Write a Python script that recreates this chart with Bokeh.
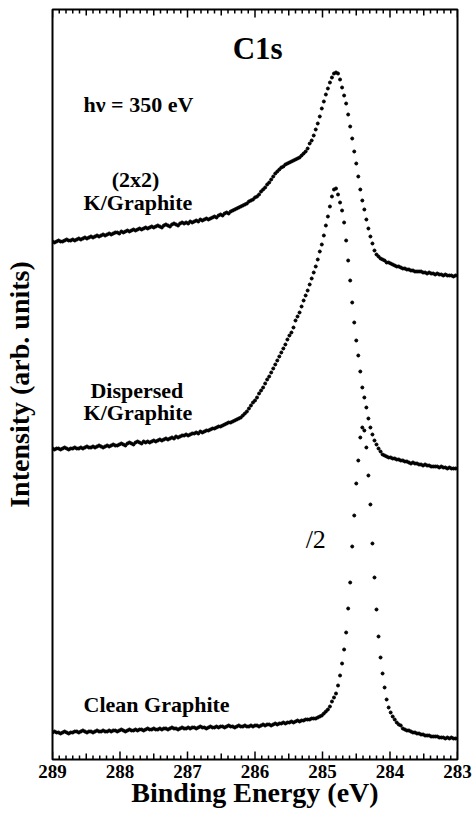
import numpy as np
from bokeh.plotting import figure
from bokeh.models import Range1d, LinearAxis, FixedTicker, Label
from bokeh.embed import file_html
from bokeh.resources import INLINE

# C 1s photoemission spectra, hv = 350 eV, sampled every 0.03 eV from 289 eV down to 283 eV
E_START = 289.0
E_STEP = 0.03

# (2x2) K/Graphite, offset for display (arb. units)
k2x2 = [
    518, 517, 518, 519, 518, 518, 519, 520, 519, 519, 520, 519, 520, 521, 520, 521,
    522, 521, 522, 523, 522, 523, 524, 523, 524, 525, 524, 525, 526, 525, 526, 527, 527,
    526, 528, 527, 528, 529, 528, 529, 530, 529, 530, 531, 530, 531, 532, 531, 532,
    533, 532, 533, 534, 533, 532, 534, 535, 534, 533, 535, 536, 535, 534, 536, 537, 536,
    537, 536, 538, 537, 538, 539, 538, 540, 539, 540, 541, 540, 541,
    542, 543, 542, 544, 545, 544, 546, 547, 546, 548, 549,
    550, 551, 552, 553, 554, 555, 556, 558, 559,
    560, 562, 563, 565, 568, 570, 572, 575, 577, 580, 583, 586, 588, 590, 592,
    593, 595, 596, 597, 598, 599, 600, 601, 602, 604, 606, 608,
    611, 616, 619, 624, 630, 636, 643, 651, 658, 665, 671, 677, 682, 686, 687, 686,
    680, 672, 664, 656, 645, 633, 621, 608, 596, 583, 570, 559, 550, 540, 531, 523,
    516, 509, 505, 503, 501,
    500, 499, 497, 497, 496, 495, 494, 493, 493, 492, 491, 491, 490, 490, 489, 489,
    488, 488, 488, 488, 487, 487, 486, 487, 486, 486, 485, 486, 485, 485, 484, 485,
    484, 484, 484, 483, 484, 484,
]

# Dispersed K/Graphite, offset for display (arb. units)
dispersed = [
    311, 310, 311, 311, 310, 311, 312, 311, 310, 311, 311, 312, 311, 311, 312, 311,
    312, 313, 312, 312, 313, 312, 313, 314, 313, 312, 313, 314, 313, 314, 315, 314, 314,
    315, 316, 315, 314, 316, 317, 316, 315, 317, 318, 317, 316, 318, 317, 318, 317,
    318, 319, 318, 319, 320, 319, 320, 321, 320, 321, 322, 321, 323, 322, 323, 324, 324,
    325, 324, 325, 326, 326, 327, 326, 328, 327, 328, 329, 329,
    330, 331, 331, 332, 333, 333, 334, 335, 336, 337, 337, 338, 339, 340, 341, 342,
    344, 346, 348, 351, 354,
    357, 359, 362, 366, 369, 372, 376, 380, 383, 387, 391, 395, 399, 403, 407, 411,
    415, 420, 424, 427, 432, 439, 443, 447, 453, 459, 464, 469, 475, 481, 487, 493,
    500, 508, 515, 524, 534, 543, 553, 563, 570, 571, 565, 557, 549, 537, 519, 499,
    479, 457, 437, 419, 404, 388, 372, 362, 352, 341, 332, 325, 319, 315, 311, 308,
    305, 304, 303, 302, 302, 301, 301, 300, 300, 299, 299, 298, 298, 297, 296, 297,
    296, 296, 295, 295, 294, 295, 294, 294, 293, 293, 293, 293, 292, 293, 292, 292,
    291, 292, 291, 291, 291, 291,
]

# Clean Graphite, peak region shown divided by 2 (arb. units)
clean = [
    27, 28, 27, 27, 26, 27, 28, 27, 26, 27, 27, 28, 28, 27, 28, 29, 28, 27, 28, 28,
    27, 28, 29, 28, 28, 29, 28, 28, 29, 28, 29, 29, 28, 29, 30, 29, 28, 29, 30, 29,
    29, 30, 29, 30, 30, 29, 30, 31, 30, 30, 31, 30, 30, 31, 30, 31, 31, 30, 31, 32,
    31, 31, 30, 31, 32, 31, 31, 32, 31, 32, 32, 31, 32, 33, 32, 32, 31, 32, 33, 32,
    32, 33, 32, 33, 33, 32, 33, 34, 33, 33, 32, 33, 34, 33, 33, 34, 33, 33, 34,
    33, 34, 34, 33, 34, 35, 34, 35, 35, 34, 35, 36, 35, 36, 36, 37, 36, 37, 37, 38,
    37, 38, 39, 38, 39, 39, 40, 40, 40, 41, 41, 41, 42, 43, 44, 46, 48, 50, 53, 58,
    62, 66, 74, 84, 96, 110, 127, 151, 177, 213, 244, 276, 299, 322, 332, 329,
    312, 284, 255, 216, 182, 150, 123, 102, 86, 72, 60, 52, 47, 43, 40, 37,
    35, 34, 31, 30, 29, 29, 28, 27, 27, 26, 26, 25, 25, 24, 24, 24, 23, 23, 23, 23,
    22, 22, 22, 21, 22, 21, 22, 21, 21, 21,
]

energy = np.round(E_START - E_STEP * np.arange(len(clean)), 3)

E_MIN, E_MAX = 283.0, 289.0
Y_MIN, Y_MAX = 0, 750
SERIF = "Liberation Serif"

p = figure(
    width=476, height=818,
    x_range=Range1d(E_MAX, E_MIN), y_range=Range1d(Y_MIN, Y_MAX),
    output_backend="svg", toolbar_location=None,
    min_border_left=52, min_border_right=19, min_border_top=9, min_border_bottom=59,
    x_axis_location=None, y_axis_location=None,
)
p.grid.visible = False
p.outline_line_color = "black"
p.outline_line_width = 2
p.background_fill_color = "white"
p.border_fill_color = "white"

# energy axis carries the labels; inward ticks are drawn as short segments below
xax = LinearAxis(ticker=FixedTicker(ticks=list(range(283, 290)), minor_ticks=[]))
xax.axis_line_color = None
xax.major_tick_in = 0
xax.major_tick_out = 0
xax.minor_tick_in = 0
xax.minor_tick_out = 0
xax.major_label_text_font = SERIF
xax.major_label_text_font_style = "bold"
xax.major_label_text_font_size = "19px"
xax.major_label_text_color = "black"
xax.major_label_standoff = 5
xax.axis_label = "Binding Energy (eV)"
xax.axis_label_text_font = SERIF
xax.axis_label_text_font_style = "bold"
xax.axis_label_text_font_size = "28px"
xax.axis_label_text_color = "black"
xax.axis_label_standoff = -4
p.add_layout(xax, "below")

yax = LinearAxis(ticker=FixedTicker(ticks=[]))
yax.axis_line_color = None
yax.major_tick_in = 0
yax.major_tick_out = 0
yax.axis_label = "Intensity (arb. units)"
yax.axis_label_text_font = SERIF
yax.axis_label_text_font_style = "bold"
yax.axis_label_text_font_size = "28px"
yax.axis_label_text_color = "black"
yax.axis_label_standoff = 18
p.add_layout(yax, "left")

# inward ticks on bottom and top edges: 1 eV long, 0.5 eV medium, 0.1 eV short
# (one y unit is one pixel of the 750 px tall frame)
tick_e = [round(E_MIN + 0.1 * k, 1) for k in range(61)]
tick_len = [8 if abs(t - round(t)) < 1e-6 else (6 if abs(t * 2 - round(t * 2)) < 1e-6 else 4)
            for t in tick_e]
bottom_ticks = dict(x0=tick_e, x1=list(tick_e), y0=[Y_MIN] * len(tick_e),
                    y1=[Y_MIN + L for L in tick_len])
top_ticks = dict(x0=list(tick_e), x1=list(tick_e), y0=[Y_MAX] * len(tick_e),
                 y1=[Y_MAX - L for L in tick_len])
p.segment(source=bottom_ticks, x0="x0", x1="x1", y0="y0", y1="y1",
          line_color="black", line_width=1.5)
p.segment(source=top_ticks, x0="x0", x1="x1", y0="y0", y1="y1",
          line_color="black", line_width=1.5)

for series in (k2x2, dispersed, clean):
    p.scatter(energy, series, size=3, color="black", marker="circle")

def add_text(x, y, text, size, bold=True, align="left"):
    p.add_layout(Label(
        x=x, y=y, text=text, text_font=SERIF,
        text_font_style="bold" if bold else "normal",
        text_font_size=size, text_align=align, text_baseline="alphabetic",
        text_color="black",
    ))

add_text(285.96, 711, "C1s", "31px", align="center")
add_text(288.54, 655, "h\u03bd = 350 eV", "22px")
add_text(287.77, 580, "(2x2)", "22px", align="center")
add_text(288.54, 557, "K/Graphite", "22px")
add_text(287.75, 369, "Dispersed", "22px", align="center")
add_text(288.54, 347, "K/Graphite", "22px")
add_text(288.54, 55, "Clean Graphite", "22px")
add_text(285.25, 220, "/2", "26px", bold=False)

open("out.html", "w").write(file_html(p, INLINE))
